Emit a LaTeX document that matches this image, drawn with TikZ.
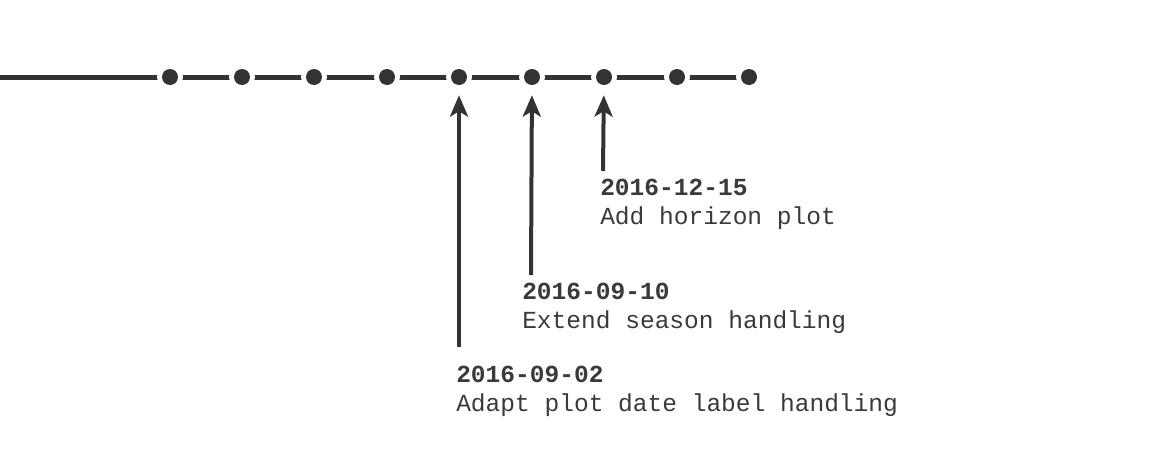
\documentclass[tikz,border=0pt]{standalone}
\usepackage{fontspec}
\setmonofont{Liberation Mono}
\usetikzlibrary{arrows.meta}
\definecolor{darkline}{HTML}{333333}
\definecolor{darktext}{HTML}{3A3A3A}
\tikzset{
  dot/.style={circle, fill=darkline, minimum size=12pt, inner sep=0pt},
  pointer/.style={darkline, line width=3pt, -{Stealth[length=16pt, width=13.5pt, inset=4pt]}, shorten >=7.5pt},
  release/.style={anchor=base west, align=left, inner sep=0pt, text=darktext,
    font=\ttfamily\fontsize{18.4}{21.5}\selectfont}
}
\begin{document}
\begin{tikzpicture}[x=0.75pt, y=-0.75pt]
\useasboundingbox (0,0) rectangle (1165,457);

% Timeline
\draw[darkline, line width=3.75pt] (0,77) -- (749,77);

% Dots
\foreach \i/\x in {1/170, 2/242, 3/314, 4/387, 5/459, 6/532, 7/604, 8/677, 9/749} {
  \fill[white] (\x,77) circle (13);
  \node[dot] (d\i) at (\x,77) {};
}

% Releases
\node[release] (r1) at (456,411) {\textbf{2016-09-02}\\Adapt plot date label handling};
\node[release] (r2) at (522,328) {\textbf{2016-09-10}\\Extend season handling};
\node[release] (r3) at (600,224) {\textbf{2016-12-15}\\Add horizon plot};

\coordinate (a1) at (459,347);
\coordinate (a2) at (531,275);
\coordinate (a3) at (603,171);

% Pointers
\draw[pointer] (a1) -- (d5);
\draw[pointer] (a2) -- (d6);
\draw[pointer] (a3) -- (d7);
\end{tikzpicture}
\end{document}
